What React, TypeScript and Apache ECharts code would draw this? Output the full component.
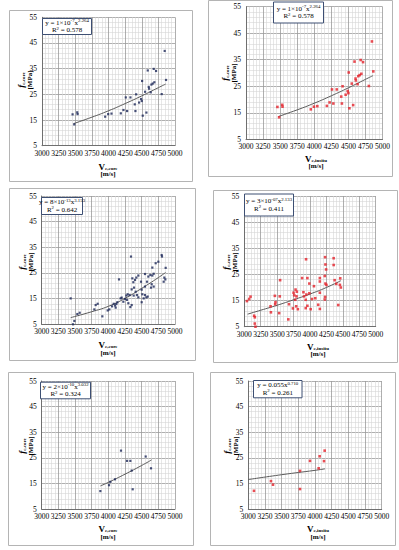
import React, { useEffect, useRef } from "react";
import * as echarts from "echarts";

// ---------- axis ranges ----------
const X_MIN = 3000;
const X_MAX = 5000;
const X_STEP = 250;
const Y_MIN = 5;
const Y_MAX = 55;
const Y_STEP = 10;

// ---------- data ----------
// Panel A/B: f_c,core vs V_c,core (A) and V_c,insitu (B) – same data
const pointsAB: [number, number][] = [
  [4845, 41.9], [4865, 30.6], [4590, 34.3], [4680, 34.9], [4715, 34.1], [4505, 30.2],
  [4800, 25.1], [4690, 29.7], [4665, 29.2], [4645, 28.8], [4605, 27.9], [4610, 27.2],
  [4550, 26.0], [4635, 25.8], [4415, 25.0], [4260, 23.8], [4330, 23.8], [4490, 23.2],
  [4500, 22.4], [4460, 21.8], [4395, 21.1], [4225, 18.9], [4280, 18.5], [4405, 18.5],
  [4185, 17.6], [4570, 17.9], [4515, 16.7], [4045, 17.5], [3995, 17.3], [3950, 16.3],
  [3530, 18.0], [3535, 17.3], [3460, 17.2], [3485, 13.3],
];
const trendAB_v = [3475, 3750, 4000, 4250, 4500, 4750, 4860];
const trendAB_f = [13.6, 16.1, 18.6, 21.4, 24.4, 27.6, 29.0];

// Panel C: core
const pointsC: [number, number][] = [
  [3435, 15.1], [3490, 6.3], [3470, 5.0], [3535, 9.0], [3570, 9.5], [3790, 10.8],
  [3810, 12.5], [3840, 13.0], [3910, 8.1], [3990, 10.4], [4015, 10.8], [4055, 12.0],
  [4080, 13.0], [4100, 12.3], [4120, 12.9], [4135, 13.6], [4110, 11.5], [4160, 22.5],
  [4185, 15.1], [4200, 15.4], [4225, 13.8], [4250, 14.9], [4270, 16.2], [4290, 16.7],
  [4280, 14.5], [4300, 13.2], [4320, 16.4], [4340, 31.4], [4330, 11.7], [4350, 12.5],
  [4360, 22.9], [4375, 21.4], [4400, 22.3], [4420, 23.2], [4350, 18.6], [4385, 19.3],
  [4410, 17.7], [4380, 16.2], [4430, 16.4], [4450, 15.5], [4500, 13.6], [4510, 16.7],
  [4530, 15.1], [4550, 16.4], [4570, 15.5], [4590, 15.8], [4450, 24.0], [4490, 21.6],
  [4550, 24.6], [4580, 21.6], [4600, 23.6], [4630, 24.2], [4660, 24.0], [4680, 24.7],
  [4660, 27.1], [4710, 28.8], [4750, 29.4], [4800, 32.0], [4805, 31.4], [4830, 21.6],
  [4840, 23.2], [4650, 20.6], [4680, 19.7], [4640, 19.3], [4550, 19.7], [4500, 18.5],
  [4860, 27.0], [4855, 22.5],
];
const trendC_v = [3435, 3750, 4000, 4250, 4500, 4750, 4860];
const trendC_f = [7.6, 9.9, 12.0, 15.1, 19.0, 23.2, 25.2];

// Panel D: in situ
const pointsD: [number, number][] = [
  [3040, 14.8], [3075, 15.6], [3095, 16.5], [3150, 9.2], [3160, 8.6], [3160, 6.2], [3170, 5.0],
  [3400, 12.8], [3405, 10.5], [3465, 16.8], [3475, 14.4], [3470, 13.6], [3540, 16.6],
  [3545, 22.8], [3530, 10.2], [3670, 7.8], [3680, 13.6], [3750, 18.0], [3780, 19.2],
  [3800, 18.4], [3775, 15.3], [3795, 16.6], [3790, 12.8], [3815, 11.7], [3740, 12.0],
  [3760, 17.0], [3940, 30.8], [3880, 23.6], [3900, 18.2], [3910, 16.6], [3935, 15.3],
  [3935, 12.1], [3945, 17.3], [3960, 23.6], [3960, 13.0], [3990, 21.5], [3990, 17.8],
  [4010, 11.7], [4030, 15.6], [4060, 20.5], [4080, 15.9], [4125, 13.4], [4150, 23.6],
  [4150, 22.3], [4150, 18.0], [4150, 11.8], [4230, 31.6], [4235, 28.8], [4245, 26.9],
  [4225, 24.4], [4235, 21.5], [4250, 21.0], [4230, 16.4], [4225, 15.4], [4360, 31.2],
  [4360, 28.6], [4375, 22.8], [4400, 21.4], [4460, 23.5], [4455, 21.0], [4470, 20.0],
  [4430, 13.3],
];
const trendD_v = [3050, 3250, 3500, 3750, 4000, 4250, 4470];
const trendD_f = [9.8, 11.3, 13.2, 15.3, 17.5, 20.0, 22.6];

// Panel E: core
const pointsE: [number, number][] = [
  [3880, 12.0], [4010, 14.3], [4030, 15.6], [4100, 16.6], [4190, 27.8], [4280, 23.8],
  [4330, 23.8], [4350, 20.0], [4365, 12.7], [4560, 25.5], [4640, 20.9],
];
const trendE_v = [3880, 4000, 4250, 4500, 4650];
const trendE_f = [14.0, 15.4, 18.6, 22.0, 24.2];

// Panel F: in situ
const pointsF: [number, number][] = [
  [3085, 12.1], [3340, 15.9], [3370, 14.5], [3775, 19.9], [3775, 12.8], [3925, 23.8],
  [4055, 20.9], [4070, 25.6], [4135, 23.7], [4145, 27.8],
];
const trendF_v = [3000, 3500, 4000, 4150];
const trendF_f = [16.5, 18.4, 20.1, 20.7];

// equations: [coefficient, coefficient exponent, x exponent, R²]
const eqTexts: [string, string, string, string][] = [
  ["1×10", "-7", "2.264", "0.578"],
  ["1×10", "-7", "2.264", "0.578"],
  ["8×10", "-13", "3.153", "0.642"],
  ["3×10", "-07", "2.133", "0.411"],
  ["2×10", "-10", "3.032", "0.324"],
  ["0.055", "", "0.710", "0.261"],
];
const xSubs = ["c,core", "c,insitu", "c,core", "c,insitu", "c,core", "c,insitu"];

const NAVY = "#1c2757";
const RED = "#e3222b";

// ---------- layout (pixels) ----------
type Layout = {
  box: number[];
  grid: number[];
  eq: number[];
  xt: number[];
  yt: number[];
};
const layouts: Layout[] = [
  { box: [9, 10, 183, 171], grid: [42, 17.3, 133, 128.4], eq: [42, 18, 49, 16], xt: [108, 170], yt: [25, 80] },
  { box: [208, 0, 184, 176], grid: [246, 6.7, 136.5, 132.6], eq: [273, 1.5, 50, 21], xt: [316, 162], yt: [229, 73] },
  { box: [9, 188, 186, 172], grid: [41.7, 196, 133.3, 128.3], eq: [41, 197, 41, 17], xt: [108, 348.5], yt: [26, 262] },
  { box: [213, 190, 184, 172], grid: [244.3, 196, 131.4, 130.7], eq: [244, 193.5, 49, 22], xt: [318, 350], yt: [230, 262] },
  { box: [8, 372, 185, 173], grid: [41.7, 381, 133.3, 128], eq: [40, 381.7, 50, 16.6], xt: [108, 532.5], yt: [26, 446] },
  { box: [210, 372, 185, 173], grid: [248.3, 381, 133.4, 128], eq: [253, 380, 48.5, 17.3], xt: [318, 532.5], yt: [231, 446] },
];

const FONT = "'Liberation Serif', 'Times New Roman', serif";

function buildOption() {
  const dataSets = [
    { pts: pointsAB, tv: trendAB_v, tf: trendAB_f, color: NAVY },
    { pts: pointsAB, tv: trendAB_v, tf: trendAB_f, color: RED },
    { pts: pointsC, tv: trendC_v, tf: trendC_f, color: NAVY },
    { pts: pointsD, tv: trendD_v, tf: trendD_f, color: RED },
    { pts: pointsE, tv: trendE_v, tf: trendE_f, color: NAVY },
    { pts: pointsF, tv: trendF_v, tf: trendF_f, color: RED },
  ];

  const grids: any[] = [];
  const xAxes: any[] = [];
  const yAxes: any[] = [];
  const series: any[] = [];
  const graphics: any[] = [];

  layouts.forEach((L, i) => {
    const [gl, gt, gw, gh] = L.grid;
    grids.push({ left: gl, top: gt, width: gw, height: gh, containLabel: false, show: true, backgroundColor: "#fff", borderWidth: 0 });
    const common = {
      axisLine: { show: true, lineStyle: { color: "#6f6f6f", width: 1 } },
      axisTick: { show: false },
      splitLine: { show: true, lineStyle: { color: "#9a9a9a", width: 0.8 } },
      minorSplitLine: { show: true, lineStyle: { color: "#d6d6d6", width: 0.6 } },
    };
    xAxes.push({
      type: "value",
      gridIndex: i,
      min: X_MIN,
      max: X_MAX,
      interval: X_STEP,
      minorTick: { show: false, splitNumber: 5 },
      ...common,
      axisLabel: {
        fontSize: 7.5,
        fontFamily: FONT,
        color: "#000",
        margin: 3.5,
        interval: 0,
        formatter: (v: number) => String(v),
      },
    });
    yAxes.push({
      type: "value",
      gridIndex: i,
      min: Y_MIN,
      max: Y_MAX,
      interval: Y_STEP,
      minorTick: { show: false, splitNumber: 5 },
      ...common,
      axisLabel: {
        fontSize: 7.5,
        fontFamily: FONT,
        color: "#000",
        margin: 5,
        formatter: (v: number) => String(v),
      },
    });
    const d = dataSets[i];
    series.push({
      type: "scatter",
      xAxisIndex: i,
      yAxisIndex: i,
      data: d.pts,
      symbol: "rect",
      symbolSize: d.color === RED ? 2.6 : 2.2,
      itemStyle: { color: d.color },
      z: 3,
    });
    series.push({
      type: "line",
      xAxisIndex: i,
      yAxisIndex: i,
      data: d.tv.map((v, k) => [v, d.tf[k]]),
      smooth: true,
      showSymbol: false,
      symbol: "none",
      lineStyle: { color: "#5a5a5a", width: 1 },
      z: 2,
    });

    // outer chart border
    const [bx, by, bw, bh] = L.box;
    graphics.push({
      type: "rect",
      shape: { x: bx + 0.5, y: by + 0.5, width: bw, height: bh },
      style: { fill: "none", stroke: "#b4b4b4", lineWidth: 1 },
      silent: true,
      z: 1,
    });
    // equation box
    const [ex, ey, ew, eh] = L.eq;
    graphics.push({
      type: "rect",
      shape: { x: ex + 0.5, y: ey + 0.5, width: ew, height: eh },
      style: { fill: "#fff", stroke: "#3d4f73", lineWidth: 1 },
      silent: true,
      z: 100,
    });
    const [coef, cexp, xexp, r2] = eqTexts[i];
    const eqRich = {
      t: { fontSize: 7, fontFamily: FONT, lineHeight: 9, fill: "#000", color: "#000" },
      s: { fontSize: 4.8, fontFamily: FONT, lineHeight: 5, verticalAlign: "top", fill: "#000", color: "#000" },
    };
    const line1 =
      "{t|y = " + coef + "}" + (cexp ? "{s|" + cexp + "}" : "") + "{t|x}{s|" + xexp + "}";
    const line2 = "{t|R}{s|2}{t| = " + r2 + "}";
    graphics.push({
      type: "text",
      x: ex + ew / 2 + 0.5,
      y: ey + eh / 2 - 3.2,
      style: { text: line1, rich: eqRich, align: "center", verticalAlign: "middle", textAlign: "center", textVerticalAlign: "middle" },
      silent: true,
      z: 101,
    });
    graphics.push({
      type: "text",
      x: ex + ew / 2 + 0.5,
      y: ey + eh / 2 + 4,
      style: { text: line2, rich: eqRich, align: "center", verticalAlign: "middle", textAlign: "center", textVerticalAlign: "middle" },
      silent: true,
      z: 101,
    });

    // x axis title
    const xTitleRich = {
      v: { fontSize: 9, fontWeight: "bold", fontFamily: FONT, lineHeight: 8, fill: "#000", color: "#000" },
      sub: { fontSize: 5, fontWeight: "bold", fontFamily: FONT, lineHeight: 5, verticalAlign: "bottom", fill: "#000", color: "#000" },
      u: { fontSize: 7, fontWeight: "bold", fontFamily: FONT, lineHeight: 7, fill: "#000", color: "#000" },
    };
    graphics.push({
      type: "text",
      x: L.xt[0],
      y: L.xt[1],
      style: {
        text: "{v|V}{sub|" + xSubs[i] + "}\n{u|[m/s]}",
        rich: xTitleRich,
        align: "center",
        verticalAlign: "middle",
        textAlign: "center",
        textVerticalAlign: "middle",
      },
      silent: true,
      z: 101,
    });
    // y axis title (rotated)
    const yTitleRich = {
      fi: { fontSize: 9, fontWeight: "bold", fontStyle: "italic", fontFamily: FONT, lineHeight: 9.5, fill: "#000", color: "#000" },
      sub: { fontSize: 5, fontWeight: "bold", fontFamily: FONT, lineHeight: 5, verticalAlign: "bottom", fill: "#000", color: "#000" },
      u: { fontSize: 7, fontWeight: "bold", fontFamily: FONT, lineHeight: 8, fill: "#000", color: "#000" },
    };
    graphics.push({
      type: "text",
      x: L.yt[0],
      y: L.yt[1],
      rotation: Math.PI / 2,
      style: {
        text: "{fi|f}{sub|c,core}\n{u|[MPa]}",
        rich: yTitleRich,
        align: "center",
        verticalAlign: "middle",
        textAlign: "center",
        textVerticalAlign: "middle",
      },
      silent: true,
      z: 101,
    });
  });

  return {
    animation: false,
    backgroundColor: "#fff",
    grid: grids,
    xAxis: xAxes,
    yAxis: yAxes,
    series,
    graphic: { elements: graphics },
  };
}

export default function App() {
  const ref = useRef<HTMLDivElement | null>(null);
  useEffect(() => {
    if (!ref.current) return;
    const chart = echarts.init(ref.current, undefined, { renderer: "svg" });
    chart.setOption(buildOption() as any);
    return () => chart.dispose();
  }, []);
  return (
    <div
      ref={ref}
      style={{ position: "absolute", left: 0, top: 0, width: 399, height: 550, background: "#fff" }}
    />
  );
}
